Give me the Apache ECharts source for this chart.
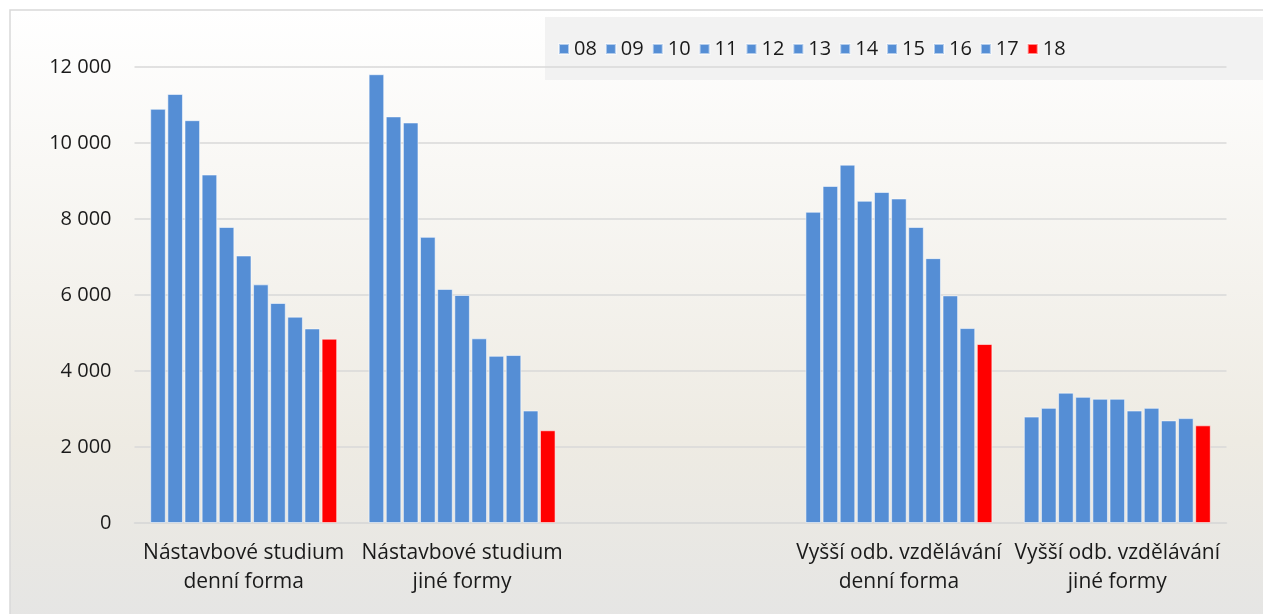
<!DOCTYPE html>
<html><head><meta charset="utf-8">
<script src="https://cdn.jsdelivr.net/npm/echarts@6/dist/echarts.min.js"></script>
<style>html,body{margin:0;padding:0;background:#fff;}#c{width:1263px;height:614px;}</style>
</head><body><div id="c"></div>
<script>
const categories = ['Nástavbové studium\ndenní forma', 'Nástavbové studium\njiné formy', '', 'Vyšší odb. vzdělávání\ndenní forma', 'Vyšší odb. vzdělávání\njiné formy'];
const years = ['08','09','10','11','12','13','14','15','16','17','18'];
const nastavbaDenni = [10900, 11290, 10600, 9170, 7790, 7040, 6280, 5790, 5430, 5120, 4850];
const nastavbaJine  = [11810, 10700, 10540, 7530, 6160, 6000, 4860, 4400, 4420, 2960, 2440];
const prazdna       = [null, null, null, null, null, null, null, null, null, null, null];
const vosDenni      = [8190, 8870, 9430, 8480, 8710, 8540, 7790, 6970, 5990, 5130, 4710];
const vosJine       = [2800, 3030, 3430, 3320, 3270, 3270, 2960, 3030, 2700, 2760, 2570];
const yTicks = [0, 2000, 4000, 6000, 8000, 10000, 12000];

const groups = [nastavbaDenni, nastavbaJine, prazdna, vosDenni, vosJine];
const BLUE = '#558ed5', RED = '#ff0000';
const series = years.map((y, i) => ({
  name: y, type: 'bar',
  data: groups.map(g => g[i] == null ? '-' : g[i]),
  barGap: '10%', barCategoryGap: '14.4%',
  itemStyle: { color: i === years.length - 1 ? RED : BLUE, borderColor: 'rgba(255,255,255,0.55)', borderWidth: 1 }
}));

const chart = echarts.init(document.getElementById('c'), null, {renderer: 'canvas'});
chart.setOption({
  animation: false,
  textStyle: { fontFamily: 'Open Sans' },
  graphic: [
    { type: 'rect', z: -10, shape: { x: 10, y: 10, width: 1263, height: 614 },
      style: { fill: new echarts.graphic.LinearGradient(0, 0, 0, 1, [
        { offset: 0, color: '#ffffff' }, { offset: 0.7, color: '#eeebe3' }, { offset: 1, color: '#e5e5e4' }]),
        stroke: '#d9d9d9', lineWidth: 1.5 } },
    { type: 'rect', z: -5, shape: { x: 545, y: 17, width: 730, height: 63 }, style: { fill: '#f2f2f2' } }
  ],
  legend: {
    data: years, left: 553, top: 34, width: 1200, itemWidth: 10, itemHeight: 10, itemGap: 8,
    icon: 'rect', textStyle: { fontSize: 20, color: '#1a1a1a', fontFamily: 'Open Sans' }
  },
  grid: { left: 134.5, right: 36.5, top: 67, bottom: 91, containLabel: false },
  xAxis: {
    type: 'category', data: categories,
    axisLine: { show: true, lineStyle: { color: '#d9d9d9', width: 1.5 } },
    axisTick: { show: false },
    axisLabel: { interval: 0, fontSize: 21, lineHeight: 29, color: '#1a1a1a', margin: 16 }
  },
  yAxis: {
    type: 'value', min: yTicks[0], max: yTicks[yTicks.length - 1], interval: 2000,
    axisLine: { show: false }, axisTick: { show: false },
    splitLine: { lineStyle: { color: '#d9d9d9', width: 1.5 } },
    axisLabel: { fontSize: 20, color: '#1a1a1a', margin: 23,
      formatter: v => String(v).replace(/\B(?=(\d{3})+(?!\d))/g, ' ') }
  },
  series: series
});
</script></body></html>
